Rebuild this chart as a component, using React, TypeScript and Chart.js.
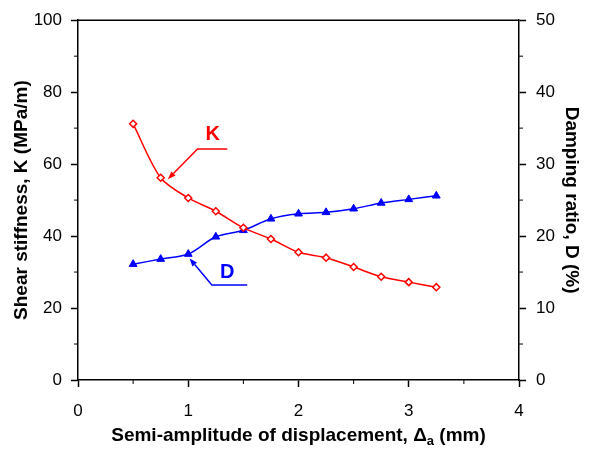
import React, { useEffect, useRef } from 'react';
import { Chart, registerables } from 'chart.js';

Chart.register(...registerables);

// ---- data ----
const displacement = [0.5, 0.75, 1.0, 1.25, 1.5, 1.75, 2.0, 2.25, 2.5, 2.75, 3.0, 3.25];
const stiffnessK = [71.2, 56.2, 50.6, 46.9, 42.3, 39.2, 35.5, 34.0, 31.4, 28.7, 27.2, 25.8];
const dampingD = [16.1, 16.8, 17.5, 19.9, 20.8, 22.4, 23.1, 23.3, 23.8, 24.6, 25.1, 25.6];

const xRange = [0, 4];
const kRange = [0, 100];
const dRange = [0, 50];
const xStep = 1;
const kStep = 20;
const dStep = 10;

const xTitle = ['Semi-amplitude of displacement, Δ', 'a', ' (mm)'];
const kTitle = 'Shear stiffness, K (MPa/m)';
const dTitle = 'Damping ratio, D (%)';

// callouts in data units (x, K-axis)
const kCallout = { label: 'K', text: [1.223, 68.2], end: [1.354, 64.2], corner: [1.084, 64.2], tip: [0.815, 55.8] };
const dCallout = { label: 'D', text: [1.354, 29.9], end: [1.535, 26.4], corner: [1.214, 26.4], tip: [1.012, 33.8] };

const FONT = '"Liberation Sans", Arial, Helvetica, sans-serif';
const RED = '#ff0000';
const BLUE = '#0000ff';

const decorPlugin = {
  id: 'decor',
  afterDraw(chart: any) {
    const { ctx, chartArea: a, scales } = chart;
    const sx = scales.x, sy = scales.y, sy1 = scales.y1;
    ctx.save();
    // top frame line
    ctx.strokeStyle = '#000';
    ctx.lineWidth = 1.5;
    ctx.beginPath();
    ctx.moveTo(a.left, a.top);
    ctx.lineTo(a.right, a.top);
    ctx.stroke();

    // minor ticks
    const mids = (s: any) => {
      const t = s.ticks.map((k: any) => k.value);
      const r: number[] = [];
      for (let i = 0; i < t.length - 1; i++) r.push((t[i] + t[i + 1]) / 2);
      return r;
    };
    ctx.lineWidth = 1;
    ctx.beginPath();
    mids(sx).forEach((v) => {
      const p = sx.getPixelForValue(v);
      ctx.moveTo(p, a.bottom);
      ctx.lineTo(p, a.bottom + 4);
    });
    mids(sy).forEach((v) => {
      const p = sy.getPixelForValue(v);
      ctx.moveTo(a.left - 4, p);
      ctx.lineTo(a.left, p);
    });
    mids(sy1).forEach((v) => {
      const p = sy1.getPixelForValue(v);
      ctx.moveTo(a.right, p);
      ctx.lineTo(a.right + 4, p);
    });
    ctx.stroke();

    // callouts
    const drawCallout = (c: any, color: string) => {
      const P = (d: number[]) => [sx.getPixelForValue(d[0]), sy.getPixelForValue(d[1])];
      const e = P(c.end), k = P(c.corner), t = P(c.tip), tx = P(c.text);
      ctx.strokeStyle = color;
      ctx.fillStyle = color;
      ctx.lineWidth = 1.5;
      const ang = Math.atan2(t[1] - k[1], t[0] - k[0]);
      const len = 8, half = 3;
      const bx = t[0] - len * Math.cos(ang), by = t[1] - len * Math.sin(ang);
      ctx.beginPath();
      ctx.moveTo(e[0], e[1]);
      ctx.lineTo(k[0], k[1]);
      ctx.lineTo(bx, by);
      ctx.stroke();
      ctx.beginPath();
      ctx.moveTo(t[0], t[1]);
      ctx.lineTo(bx + half * Math.sin(ang), by - half * Math.cos(ang));
      ctx.lineTo(bx - half * Math.sin(ang), by + half * Math.cos(ang));
      ctx.closePath();
      ctx.fill();
      ctx.font = `bold 20px ${FONT}`;
      ctx.textAlign = 'center';
      ctx.textBaseline = 'middle';
      ctx.fillText(c.label, tx[0], tx[1]);
    };
    drawCallout(kCallout, RED);
    drawCallout(dCallout, BLUE);

    // x-axis title with subscript
    const main = `bold 19px ${FONT}`;
    const sub = `bold 13px ${FONT}`;
    const parts = [
      { t: xTitle[0], f: main, dy: 0 },
      { t: xTitle[1], f: sub, dy: 4 },
      { t: xTitle[2], f: main, dy: 0 },
    ];
    let total = 0;
    parts.forEach((p) => {
      ctx.font = p.f;
      total += ctx.measureText(p.t).width;
    });
    let cx = (a.left + a.right) / 2 - total / 2;
    const base = a.bottom + 61;
    ctx.fillStyle = '#000';
    ctx.textAlign = 'left';
    ctx.textBaseline = 'alphabetic';
    parts.forEach((p) => {
      ctx.font = p.f;
      ctx.fillText(p.t, cx, base + p.dy);
      cx += ctx.measureText(p.t).width;
    });
    ctx.restore();
  },
};

export default function App() {
  const ref = useRef<HTMLCanvasElement | null>(null);

  useEffect(() => {
    if (!ref.current) return;
    const tickFont = { family: FONT, size: 17 };
    const titleFont = { family: FONT, size: 19, weight: 'bold' as const };
    const grid = {
      display: true,
      drawOnChartArea: false,
      drawTicks: true,
      tickLength: 7,
      tickColor: '#000',
      tickWidth: 1.5,
    };
    const border = { display: true, color: '#000', width: 1.5 };
    const chart = new Chart(ref.current, {
      type: 'line',
      data: {
        datasets: [
          {
            label: 'K',
            data: displacement.map((x, i) => ({ x, y: stiffnessK[i] })),
            yAxisID: 'y',
            borderColor: RED,
            borderWidth: 1.5,
            backgroundColor: '#ffffff',
            pointStyle: 'rectRot',
            pointRadius: 3.5,
            pointBorderColor: RED,
            pointBackgroundColor: '#ffffff',
            pointBorderWidth: 1.5,
            tension: 0.3,
          },
          {
            label: 'D',
            data: displacement.map((x, i) => ({ x, y: dampingD[i] })),
            yAxisID: 'y1',
            borderColor: BLUE,
            borderWidth: 1.5,
            backgroundColor: BLUE,
            pointStyle: 'triangle',
            pointRadius: 4.5,
            pointBorderColor: BLUE,
            pointBackgroundColor: BLUE,
            pointBorderWidth: 1,
            tension: 0.3,
          },
        ],
      },
      options: {
        animation: false,
        responsive: true,
        maintainAspectRatio: false,
        layout: { padding: { top: 20, left: 0, right: 0, bottom: 0 } },
        plugins: {
          legend: { display: false },
          tooltip: { enabled: false },
        },
        scales: {
          x: {
            type: 'linear',
            min: xRange[0],
            max: xRange[1],
            ticks: { stepSize: xStep, color: '#000', font: tickFont, padding: 14 },
            grid,
            border,
            afterFit: (s: any) => {
              s.height = 72;
            },
          },
          y: {
            type: 'linear',
            position: 'left',
            min: kRange[0],
            max: kRange[1],
            ticks: { stepSize: kStep, color: '#000', font: tickFont, padding: 9 },
            grid,
            border,
            title: { display: true, text: kTitle, color: '#000', font: titleFont, padding: { top: 10, bottom: 0 } },
            afterFit: (s: any) => {
              s.width = 78;
            },
          },
          y1: {
            type: 'linear',
            position: 'right',
            min: dRange[0],
            max: dRange[1],
            ticks: { stepSize: dStep, color: '#000', font: tickFont, padding: 10 },
            grid,
            border,
            title: { display: true, text: dTitle, color: '#000', font: titleFont, padding: { top: 6, bottom: 0 } },
            afterFit: (s: any) => {
              s.width = 70;
            },
          },
        },
      },
      plugins: [decorPlugin],
    });
    return () => chart.destroy();
  }, []);

  return (
    <div style={{ position: 'fixed', left: 0, top: 0, width: 589, height: 452, background: '#fff' }}>
      <canvas ref={ref} />
    </div>
  );
}
